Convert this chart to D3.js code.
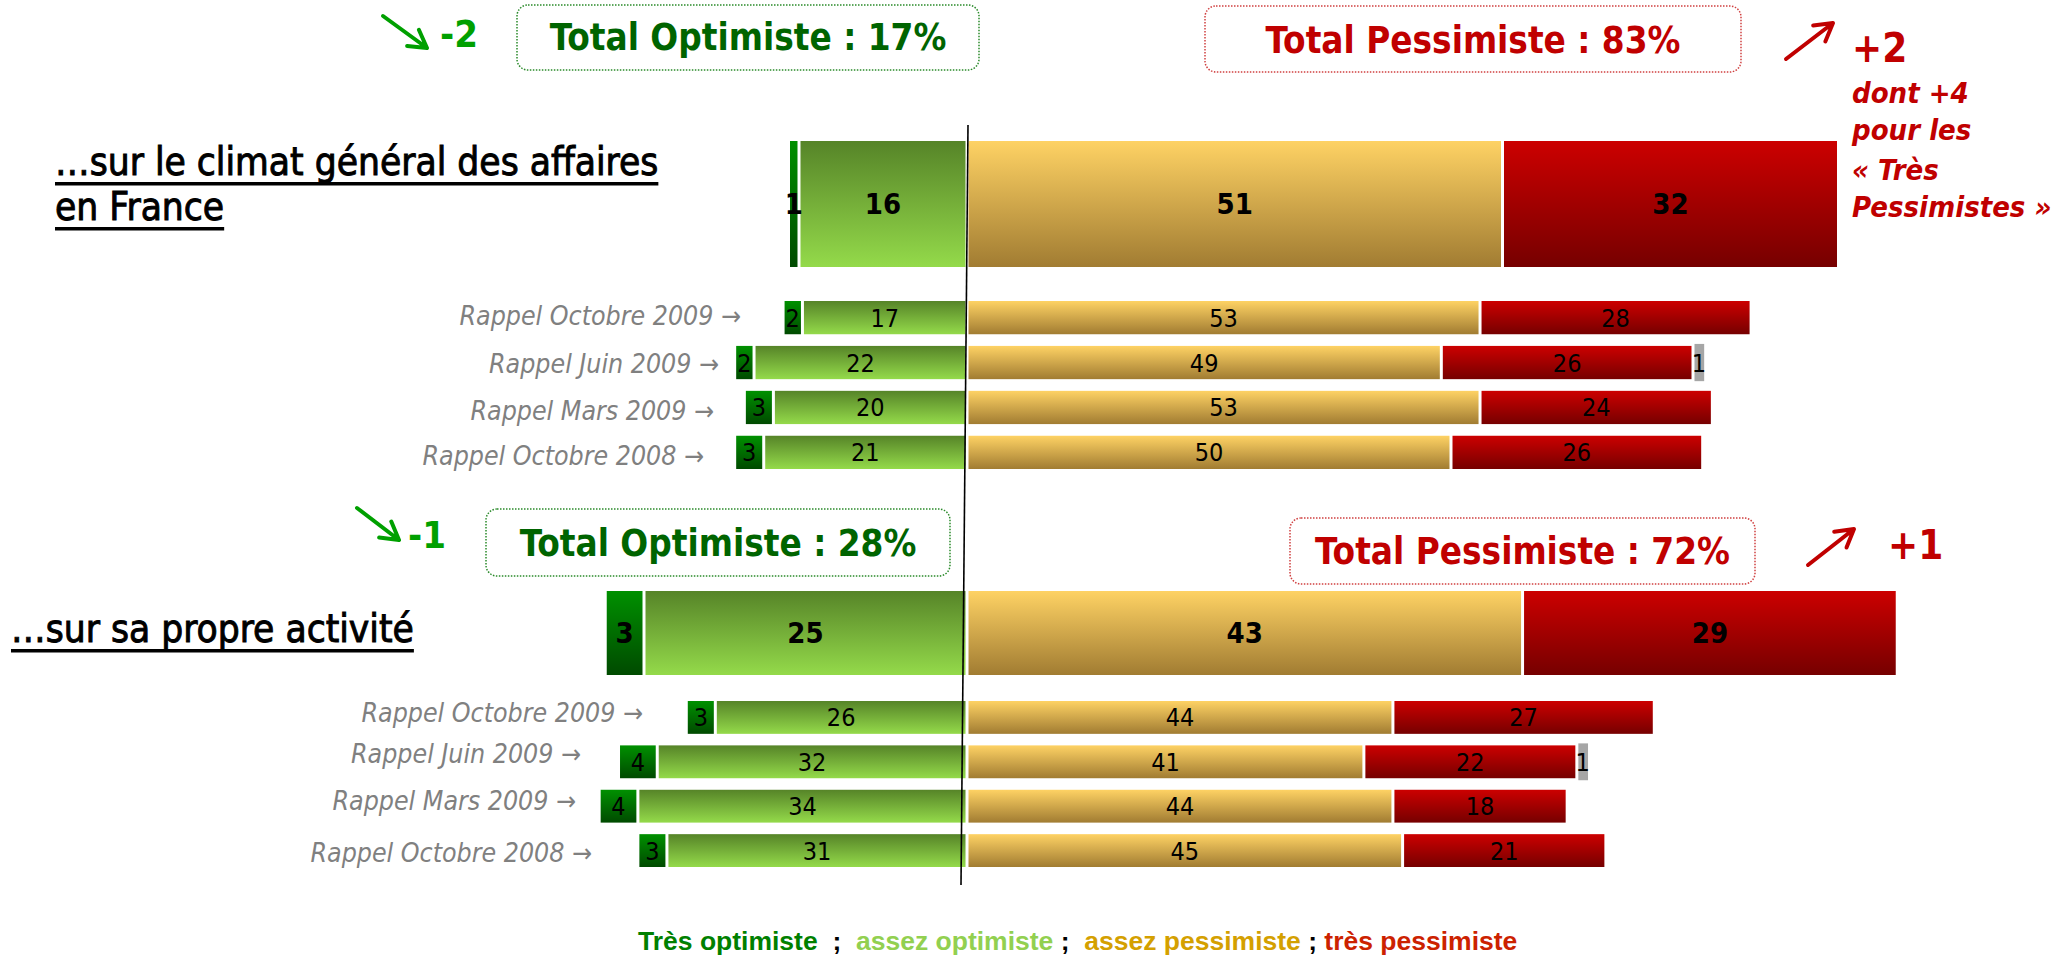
<!DOCTYPE html>
<html lang="fr">
<head>
<meta charset="utf-8">
<title>Climat des affaires</title>
<script src="https://cdn.jsdelivr.net/npm/d3@7"></script>
<style>
  html, body { margin: 0; padding: 0; background: #fff; }
  svg { display: block; }
  .cond { font-family: 'DejaVu Sans Condensed', 'DejaVu Sans', sans-serif; font-stretch: condensed; }
  .legend { font-family: 'Liberation Sans', Arial, sans-serif; font-weight: bold; white-space: pre; }
</style>
</head>
<body>
<script>
// rows: main bar first, then the "rappel" rows
const rowLabels = ['Ensemble', 'Rappel Octobre 2009', 'Rappel Juin 2009', 'Rappel Mars 2009', 'Rappel Octobre 2008'];

// ...sur le climat général des affaires en France
const climatTresOptimiste = [1, 2, 2, 3, 3];
const climatAssezOptimiste = [16, 17, 22, 20, 21];
const climatAssezPessimiste = [51, 53, 49, 53, 50];
const climatTresPessimiste = [32, 28, 26, 24, 26];
const climatNsp = [0, 0, 1, 0, 0];

// ...sur sa propre activité
const activiteTresOptimiste = [3, 3, 4, 4, 3];
const activiteAssezOptimiste = [25, 26, 32, 34, 31];
const activiteAssezPessimiste = [43, 44, 41, 44, 45];
const activiteTresPessimiste = [29, 27, 22, 18, 21];
const activiteNsp = [0, 0, 1, 0, 0];

const totalOptimiste = [17, 28];
const totalPessimiste = [83, 72];
const evolutionOptimiste = ['-2', '-1'];
const evolutionPessimiste = ['+2', '+1'];
const notePessimiste = ['dont +4', 'pour les', '« Très', 'Pessimistes »'];

const sectionTitles = [['…sur le climat général des affaires', 'en France'], ['…sur sa propre activité']];
const legendItems = ['Très optimiste', 'assez optimiste', 'assez pessimiste', 'très pessimiste'];

const W = 2071;
const H = 955;

const svg = d3.select('body').append('svg')
  .attr('width', W)
  .attr('height', H);

const defs = svg.append('defs');
[
  ['tresOpt', '#009000', '#004a00'],
  ['assezOpt', '#568428', '#94da4a'],
  ['assezPess', '#fed264', '#a17c32'],
  ['tresPess', '#cc0000', '#760000']
].forEach(function (g) {
  const lg = defs.append('linearGradient')
    .attr('id', 'grad-' + g[0])
    .attr('x1', 0).attr('y1', 0)
    .attr('x2', 0).attr('y2', 1);
  lg.append('stop').attr('offset', '0%').attr('stop-color', g[1]);
  lg.append('stop').attr('offset', '100%').attr('stop-color', g[2]);
});

const fills = {
  tresOpt: 'url(#grad-tresOpt)',
  assezOpt: 'url(#grad-assezOpt)',
  assezPess: 'url(#grad-assezPess)',
  tresPess: 'url(#grad-tresPess)',
  nsp: '#a6a6a6'
};

function buildRows (tresOpt, assezOpt, assezPess, tresPess, nsp) {
  return rowLabels.map(function (label, i) {
    const pess = assezPess[i] + tresPess[i];
    const segs = [
      { key: 'tresOpt', v: tresOpt[i], x0: -(tresOpt[i] + assezOpt[i]), x1: -assezOpt[i] },
      { key: 'assezOpt', v: assezOpt[i], x0: -assezOpt[i], x1: 0 },
      { key: 'assezPess', v: assezPess[i], x0: 0, x1: assezPess[i] },
      { key: 'tresPess', v: tresPess[i], x0: assezPess[i], x1: pess },
      { key: 'nsp', v: nsp[i], x0: pess, x1: pess + nsp[i] }
    ].filter(function (s) { return s.v > 0; });
    return { label: label, i: i, segs: segs };
  });
}

const zeroX = 967;
const xMain = [
  d3.scaleLinear().domain([0, 100]).range([zeroX, zeroX + 1050]),
  d3.scaleLinear().domain([0, 100]).range([zeroX, zeroX + 1292])
];
const xRappel = d3.scaleLinear().domain([0, 100]).range([zeroX, zeroX + 968]);

const sections = [
  {
    rows: buildRows(climatTresOptimiste, climatAssezOptimiste, climatAssezPessimiste, climatTresPessimiste, climatNsp),
    mainY: [141, 267],
    rappelRange: [301, 469],
    labelEnd: [741, 719, 714, 704],
    labelDy: [7, 10, 13, 13]
  },
  {
    rows: buildRows(activiteTresOptimiste, activiteAssezOptimiste, activiteAssezPessimiste, activiteTresPessimiste, activiteNsp),
    mainY: [591, 675],
    rappelRange: [701, 867],
    labelEnd: [643, 581, 576, 592],
    labelDy: [5, 1, 4, 11]
  }
];

sections.forEach(function (sec, s) {
  const band = d3.scaleBand()
    .domain(rowLabels.slice(1))
    .range(sec.rappelRange)
    .paddingInner(0.26)
    .paddingOuter(0);

  sec.rows.forEach(function (row) {
    const main = row.i === 0;
    const x = main ? xMain[s] : xRappel;
    const y0 = main ? sec.mainY[0] : band(row.label);
    const h = main ? sec.mainY[1] - sec.mainY[0] : band.bandwidth();
    const g = svg.append('g');

    g.selectAll('rect')
      .data(row.segs)
      .join('rect')
      .attr('x', function (d) { return x(d.x0) + 1.5; })
      .attr('width', function (d) { return Math.max(2, x(d.x1) - x(d.x0) - (d.key === 'nsp' ? 0 : 3)); })
      .attr('y', function (d) { return d.key === 'nsp' ? y0 - 2 : y0; })
      .attr('height', function (d) { return d.key === 'nsp' ? h + 4 : h; })
      .attr('fill', function (d) { return fills[d.key]; });

    g.selectAll('text')
      .data(row.segs)
      .join('text')
      .attr('class', 'cond')
      .attr('x', function (d) { return (x(d.x0) + x(d.x1)) / 2 + (d.key === 'nsp' ? 1 : 0); })
      .attr('y', y0 + h / 2)
      .attr('dy', '0.36em')
      .attr('text-anchor', 'middle')
      .style('font-size', main ? '29px' : '25px')
      .style('font-weight', main ? 'bold' : 'normal')
      .attr('fill', '#000')
      .text(function (d) { return d.v; });

    if (!main) {
      svg.append('text')
        .attr('class', 'cond')
        .attr('x', sec.labelEnd[row.i - 1])
        .attr('y', y0 + h / 2 + sec.labelDy[row.i - 1])
        .attr('text-anchor', 'end')
        .style('font-size', '26.5px')
        .style('font-style', 'italic')
        .attr('fill', '#808080')
        .text(row.label + ' →');
    }
  });
});

// section titles, underlined
const titlePos = [{ x: 55, y: [175, 220] }, { x: 11, y: [642] }];
sectionTitles.forEach(function (lines, s) {
  lines.forEach(function (line, j) {
    const t = svg.append('text')
      .attr('class', 'cond')
      .attr('x', titlePos[s].x)
      .attr('y', titlePos[s].y[j])
      .style('font-size', '38.5px')
      .attr('fill', '#000')
      .attr('stroke', '#000')
      .attr('stroke-width', 0.9)
      .text(line);
    const len = t.node().getComputedTextLength();
    svg.append('rect')
      .attr('x', titlePos[s].x)
      .attr('y', titlePos[s].y[j] + 7)
      .attr('width', len)
      .attr('height', 3.5)
      .attr('fill', '#000');
  });
});

// totals boxes
const optBoxes = [
  { x: 517, y: 5, w: 462, h: 65, ty: 50 },
  { x: 486, y: 509, w: 464, h: 67, ty: 556 }
];
const pessBoxes = [
  { x: 1205, y: 6, w: 536, h: 66, ty: 53 },
  { x: 1290, y: 518, w: 465, h: 66, ty: 564 }
];

function drawBox (b, label, stroke, color) {
  svg.append('rect')
    .attr('x', b.x).attr('y', b.y)
    .attr('width', b.w).attr('height', b.h)
    .attr('rx', 11).attr('ry', 11)
    .attr('fill', 'none')
    .attr('stroke', stroke)
    .attr('stroke-width', 1.5)
    .attr('stroke-dasharray', '1.5 1.5');
  svg.append('text')
    .attr('class', 'cond')
    .attr('x', b.x + b.w / 2)
    .attr('y', b.ty)
    .attr('text-anchor', 'middle')
    .style('font-size', '36.5px')
    .style('font-weight', 'bold')
    .attr('fill', color)
    .text(label);
}

totalOptimiste.forEach(function (v, s) {
  drawBox(optBoxes[s], 'Total Optimiste : ' + v + '%', '#2a8a2a', '#006400');
});
totalPessimiste.forEach(function (v, s) {
  drawBox(pessBoxes[s], 'Total Pessimiste : ' + v + '%', '#d04040', '#c00000');
});

// evolution arrows
function drawArrow (a, color) {
  const ang = Math.atan2(a.y1 - a.y2, a.x1 - a.x2);
  const len = 20;
  const w1 = [a.x2 + len * Math.cos(ang + Math.PI / 6), a.y2 + len * Math.sin(ang + Math.PI / 6)];
  const w2 = [a.x2 + len * Math.cos(ang - Math.PI / 6), a.y2 + len * Math.sin(ang - Math.PI / 6)];
  const p = d3.path();
  p.moveTo(a.x1, a.y1);
  p.lineTo(a.x2, a.y2);
  p.moveTo(w1[0], w1[1]);
  p.lineTo(a.x2, a.y2);
  p.lineTo(w2[0], w2[1]);
  svg.append('path')
    .attr('d', p.toString())
    .attr('fill', 'none')
    .attr('stroke', color)
    .attr('stroke-width', 4)
    .attr('stroke-linecap', 'round')
    .attr('stroke-linejoin', 'round');
}

const greenArrows = [
  { x1: 383, y1: 16, x2: 427, y2: 48, tx: 440, ty: 47 },
  { x1: 357, y1: 508, x2: 399, y2: 540, tx: 408, ty: 548 }
];
const redArrows = [
  { x1: 1786, y1: 59, x2: 1833, y2: 23, tx: 1852, ty: 62 },
  { x1: 1808, y1: 565, x2: 1854, y2: 529, tx: 1888, ty: 559 }
];

evolutionOptimiste.forEach(function (v, s) {
  const a = greenArrows[s];
  drawArrow(a, '#00a000');
  svg.append('text')
    .attr('class', 'cond')
    .attr('x', a.tx).attr('y', a.ty)
    .style('font-size', '38px')
    .style('font-weight', 'bold')
    .attr('fill', '#00a000')
    .text(v);
});
evolutionPessimiste.forEach(function (v, s) {
  const a = redArrows[s];
  drawArrow(a, '#c00000');
  svg.append('text')
    .attr('class', 'cond')
    .attr('x', a.tx).attr('y', a.ty)
    .style('font-size', '40px')
    .style('font-weight', 'bold')
    .attr('fill', '#c00000')
    .text(v);
});

const noteY = [103, 140, 180, 217];
notePessimiste.forEach(function (line, j) {
  svg.append('text')
    .attr('class', 'cond')
    .attr('x', 1852)
    .attr('y', noteY[j])
    .style('font-size', '29px')
    .style('font-weight', 'bold')
    .style('font-style', 'italic')
    .attr('fill', '#c00000')
    .text(line);
});

// legend
const legendColors = ['#008000', '#92d050', '#d4a000', '#cc2200'];
const legendSeps = ['  ;  ', ' ;  ', ' ; '];
const legend = svg.append('text')
  .attr('class', 'legend')
  .attr('x', 638)
  .attr('y', 950)
  .style('font-size', '26.5px');
legendItems.forEach(function (item, i) {
  legend.append('tspan').attr('fill', legendColors[i]).text(item);
  if (i < legendSeps.length) {
    legend.append('tspan').attr('fill', '#000').text(legendSeps[i]);
  }
});

// zero line
svg.append('line')
  .attr('x1', 968).attr('y1', 125)
  .attr('x2', 961).attr('y2', 885)
  .attr('stroke', '#000')
  .attr('stroke-width', 1.6);
</script>
</body>
</html>
